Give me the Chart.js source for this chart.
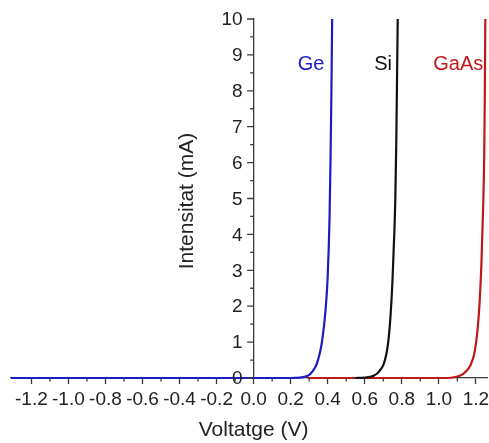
<!DOCTYPE html>
<html><head><meta charset="utf-8">
<script src="https://cdn.jsdelivr.net/npm/chart.js@4/dist/chart.umd.min.js"></script>
<style>html,body{margin:0;padding:0;background:#fff;overflow:hidden}</style>
</head><body>
<canvas id="c" width="489" height="443" style="width:489px;height:443px;display:block"></canvas>
<script>
// ---- data ----
const seriesNames = ['Ge', 'Si', 'GaAs'];
const seriesColors = ['#1c1cc4', '#111111', '#c01818'];

const geVolt = [-1.31, 0.20, 0.25, 0.28, 0.30, 0.32, 0.34, 0.35, 0.36, 0.37, 0.38, 0.39, 0.40, 0.41, 0.415, 0.42, 0.424];
const geCurr = [0, 0, 0.01, 0.04, 0.09, 0.20, 0.38, 0.55, 0.75, 1.05, 1.45, 2.0, 2.85, 4.5, 6.0, 8.0, 10];

const siVolt = [0.55, 0.60, 0.63, 0.65, 0.67, 0.68, 0.70, 0.71, 0.72, 0.73, 0.74, 0.75, 0.76, 0.765, 0.77, 0.774, 0.778];
const siCurr = [0, 0.01, 0.03, 0.07, 0.14, 0.20, 0.36, 0.52, 0.76, 1.15, 1.8, 2.75, 4.1, 5.0, 6.5, 8.2, 10];

const gaasVolt = [0.29, 1.05, 1.10, 1.13, 1.15, 1.17, 1.18, 1.19, 1.20, 1.21, 1.22, 1.23, 1.24, 1.245, 1.248, 1.251];
const gaasCurr = [0, 0, 0.04, 0.11, 0.20, 0.35, 0.48, 0.65, 0.95, 1.4, 2.1, 3.2, 4.9, 6.2, 7.8, 10];

const xMajorTicks = [-1.2, -1.0, -0.8, -0.6, -0.4, -0.2, 0.0, 0.2, 0.4, 0.6, 0.8, 1.0, 1.2];
const xMinorTicks = [-1.1, -0.9, -0.7, -0.5, -0.3, -0.1, 0.1, 0.3, 0.5, 0.7, 0.9, 1.1];
const yMajorTicks = [0, 1, 2, 3, 4, 5, 6, 7, 8, 9, 10];
const yMinorTicks = [0.5, 1.5, 2.5, 3.5, 4.5, 5.5, 6.5, 7.5, 8.5, 9.5];

// curve label anchors (data coordinates)
const labelX = [0.31, 0.699, 1.105];
const labelY = [8.73, 8.73, 8.73];

const xTitle = 'Voltatge (V)';
const yTitle = 'Intensitat (mA)';

// ---- build ----
function pts(xs, ys) { return xs.map((x, i) => ({ x: x, y: ys[i] })); }

const FONT = '"Liberation Sans", Arial, sans-serif';
const AXIS = '#3a3a3a';

const decor = {
  id: 'decor',
  afterDraw(chart) {
    const ctx = chart.ctx;
    const xs = chart.scales.x, ys = chart.scales.y;
    const x0 = xs.getPixelForValue(0);
    const yb = ys.getPixelForValue(0);
    ctx.save();
    ctx.strokeStyle = AXIS;
    ctx.lineWidth = 1.3;
    ctx.beginPath();
    xMinorTicks.forEach(v => { const p = xs.getPixelForValue(v); ctx.moveTo(p, yb); ctx.lineTo(p, yb + 3.5); });
    yMinorTicks.forEach(v => { const p = ys.getPixelForValue(v); ctx.moveTo(x0, p); ctx.lineTo(x0 - 3.5, p); });
    yMajorTicks.forEach(v => { const p = ys.getPixelForValue(v); ctx.moveTo(x0, p); ctx.lineTo(x0 - 6.5, p); });
    ctx.stroke();

    ctx.fillStyle = '#222';
    ctx.font = '19px ' + FONT;
    ctx.textAlign = 'right';
    ctx.textBaseline = 'middle';
    yMajorTicks.forEach(v => { ctx.fillText(String(v), x0 - 11, ys.getPixelForValue(v) + 1); });

    ctx.font = '21px ' + FONT;
    ctx.textAlign = 'center';
    ctx.fillText(xTitle, x0, 430);
    ctx.save();
    ctx.translate(187, 201);
    ctx.rotate(-Math.PI / 2);
    ctx.fillText(yTitle, 0, 0);
    ctx.restore();

    ctx.font = '20px ' + FONT;
    seriesNames.forEach((n, i) => {
      ctx.fillStyle = seriesColors[i];
      ctx.fillText(n, xs.getPixelForValue(labelX[i]), ys.getPixelForValue(labelY[i]));
    });
    ctx.restore();
  }
};

const ds = (name, xs, ys, col) => ({
  label: name, data: pts(xs, ys), borderColor: col, backgroundColor: col,
  borderWidth: 2.2, pointRadius: 0, cubicInterpolationMode: 'monotone', clip: false, fill: false
});

new Chart(document.getElementById('c'), {
  type: 'line',
  data: {
    datasets: [
      ds(seriesNames[1], siVolt, siCurr, seriesColors[1]),
      ds(seriesNames[0], geVolt, geCurr, seriesColors[0]),
      ds(seriesNames[2], gaasVolt, gaasCurr, seriesColors[2])
    ]
  },
  options: {
    responsive: false,
    devicePixelRatio: 1,
    animation: false,
    layout: { padding: { left: 11, right: 2, top: 19, bottom: 0 } },
    plugins: { legend: { display: false }, tooltip: { enabled: false } },
    scales: {
      x: {
        type: 'linear', position: 'bottom', min: -1.31, max: 1.26,
        afterBuildTicks: s => { s.ticks = xMajorTicks.map(v => ({ value: v })); },
        afterFit: s => { s.height = 65; s.paddingLeft = 0; s.paddingRight = 0; },
        border: { display: true, color: AXIS, width: 1.3 },
        grid: { drawOnChartArea: false, drawTicks: true, tickLength: 6, tickColor: AXIS, tickWidth: 1.3 },
        ticks: { color: '#222', font: { family: FONT, size: 19 }, padding: 4, maxRotation: 0, autoSkip: false,
                 callback: v => v.toFixed(1) }
      },
      y: {
        type: 'linear', position: { x: 0 }, min: 0, max: 10,
        afterBuildTicks: s => { s.ticks = yMajorTicks.map(v => ({ value: v })); },
        afterFit: s => { s.paddingTop = 0; s.paddingBottom = 0; },
        border: { display: true, color: AXIS, width: 1.3 },
        grid: { drawOnChartArea: false, drawTicks: false },
        ticks: { display: false }
      }
    }
  },
  plugins: [decor]
});
</script>
</body></html>
